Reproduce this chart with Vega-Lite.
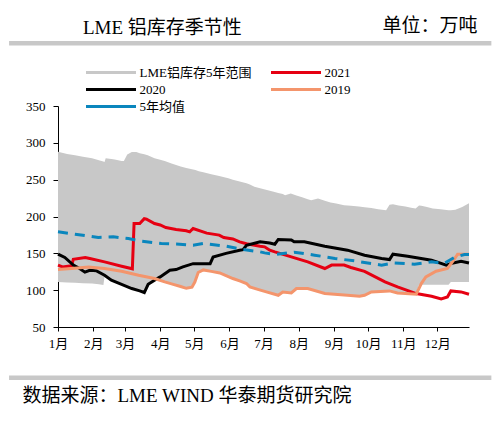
{
  "$schema": "https://vega.github.io/schema/vega-lite/v6.json",
  "width": 411,
  "height": 221,
  "autosize": {"type": "none"},
  "padding": {"left": 58, "top": 106, "right": 32, "bottom": 95},
  "background": "white",
  "config": {"view": {"stroke": null}, "font": "Liberation Serif, Noto Sans CJK SC", "axis": {"labelOverlap": false, "labelFlush": false, "grid": false, "labelSeparation": -30}},
  "title": {"text": "LME 铝库存季节性", "anchor": "start", "frame": "group", "dx": 25, "dy": 22, "offset": 0, "fontSize": 19, "fontWeight": "normal", "color": "black", "font": "Liberation Serif, Noto Sans CJK SC"},
  "datasets": {
    "rng": [
      {"d":0,"v":111,"v2":288},{"d":8,"v":110.5,"v2":285},{"d":15,"v":110,"v2":283},{"d":22,"v":109.5,"v2":281},{"d":30,"v":109,"v2":279},{"d":36,"v":108,"v2":276.5},{"d":40,"v":107,"v2":274.5},{"d":41,"v":119,"v2":274},{"d":42,"v":118.5,"v2":279},{"d":47,"v":113.5,"v2":278},{"d":50,"v":111.5,"v2":277.5},{"d":56,"v":108,"v2":275.5},{"d":58,"v":107,"v2":275.5},{"d":61,"v":105,"v2":284},{"d":65,"v":102,"v2":287.5},{"d":69,"v":100,"v2":287.5},{"d":72,"v":99,"v2":286},{"d":76,"v":96.5,"v2":284.5},{"d":79,"v":108,"v2":283},{"d":85,"v":113.5,"v2":279},{"d":90,"v":113.5,"v2":277},{"d":94,"v":111.2,"v2":275.5},{"d":100,"v":108.5,"v2":272},{"d":108,"v":105,"v2":268},{"d":113,"v":102.5,"v2":266},{"d":118,"v":104,"v2":264},{"d":121,"v":111.5,"v2":263},{"d":124,"v":124,"v2":261.5},{"d":128,"v":127.5,"v2":260},{"d":135,"v":125.5,"v2":257.5},{"d":142,"v":123.4,"v2":255},{"d":150,"v":118.5,"v2":252},{"d":154,"v":115.8,"v2":250},{"d":160,"v":112.5,"v2":247.5},{"d":166,"v":109,"v2":245},{"d":169,"v":104.4,"v2":243.6},{"d":173,"v":102.5,"v2":240.3},{"d":178,"v":100,"v2":238.5},{"d":184,"v":97.5,"v2":236},{"d":190,"v":95,"v2":233.5},{"d":194,"v":93.1,"v2":232},{"d":198,"v":97.6,"v2":230.4},{"d":200,"v":97.2,"v2":229},{"d":205,"v":96.3,"v2":231.3},{"d":210,"v":102.2,"v2":228.5},{"d":215,"v":102.2,"v2":226},{"d":220,"v":102.2,"v2":223.5},{"d":223,"v":100.8,"v2":222.2},{"d":229,"v":98,"v2":224.5},{"d":235,"v":95.4,"v2":221.5},{"d":240,"v":94.8,"v2":219},{"d":245,"v":94.2,"v2":217.5},{"d":252,"v":93.5,"v2":215.4},{"d":258,"v":93,"v2":214.5},{"d":265,"v":91.7,"v2":213.5},{"d":270,"v":93.1,"v2":212.5},{"d":276,"v":97.6,"v2":211.5},{"d":282,"v":98.2,"v2":210},{"d":289,"v":98.8,"v2":208.6},{"d":292,"v":99,"v2":216},{"d":295,"v":97.8,"v2":216.5},{"d":300,"v":96.2,"v2":215},{"d":306,"v":95.6,"v2":213.5},{"d":311,"v":95,"v2":212},{"d":315,"v":94.4,"v2":211},{"d":318,"v":107.5,"v2":215},{"d":320,"v":107.5,"v2":214.5},{"d":325,"v":107.5,"v2":213},{"d":330,"v":107.5,"v2":211},{"d":337,"v":107.5,"v2":210},{"d":344,"v":107.5,"v2":208.6},{"d":346,"v":111,"v2":208.6},{"d":350,"v":111,"v2":209},{"d":356,"v":111,"v2":213},{"d":362,"v":111,"v2":218}
    ],
    "lines": [
      {"s":"2021","d":0,"v":134},{"s":"2021","d":4,"v":131.6},{"s":"2021","d":12,"v":133},{"s":"2021","d":13.5,"v":142},{"s":"2021","d":24,"v":144.4},{"s":"2021","d":28,"v":143},{"s":"2021","d":41,"v":138.4},{"s":"2021","d":56,"v":132.5},{"s":"2021","d":65.5,"v":129},{"s":"2021","d":67,"v":190.5},{"s":"2021","d":72,"v":190.5},{"s":"2021","d":76,"v":197},{"s":"2021","d":78,"v":196.5},{"s":"2021","d":85,"v":190.5},{"s":"2021","d":90,"v":188.5},{"s":"2021","d":95,"v":185},{"s":"2021","d":104,"v":182.4},{"s":"2021","d":113,"v":180.6},{"s":"2021","d":116,"v":179.2},{"s":"2021","d":119,"v":183.7},{"s":"2021","d":131,"v":177.4},{"s":"2021","d":142,"v":174.7},{"s":"2021","d":146,"v":171.5},{"s":"2021","d":154,"v":169.5},{"s":"2021","d":160,"v":165.6},{"s":"2021","d":166,"v":163},{"s":"2021","d":178,"v":159.7},{"s":"2021","d":182,"v":158.8},{"s":"2021","d":186.5,"v":154.3},{"s":"2021","d":191,"v":152},{"s":"2021","d":205.5,"v":145.2},{"s":"2021","d":220,"v":138.4},{"s":"2021","d":235,"v":129.4},{"s":"2021","d":241,"v":134},{"s":"2021","d":252,"v":134},{"s":"2021","d":258,"v":130.8},{"s":"2021","d":270,"v":125.5},{"s":"2021","d":279,"v":118.5},{"s":"2021","d":288,"v":111.2},{"s":"2021","d":299,"v":104.4},{"s":"2021","d":315.5,"v":95.4},{"s":"2021","d":329,"v":91.7},{"s":"2021","d":337.5,"v":88},{"s":"2021","d":343,"v":90.8},{"s":"2021","d":346,"v":99},{"s":"2021","d":355,"v":97.6},{"s":"2021","d":362,"v":94.4},
      {"s":"2020","d":0,"v":149},{"s":"2020","d":6,"v":144.4},{"s":"2020","d":13.5,"v":134},{"s":"2020","d":19,"v":129.4},{"s":"2020","d":23.7,"v":124.5},{"s":"2020","d":28,"v":127},{"s":"2020","d":34,"v":126.2},{"s":"2020","d":41,"v":120.3},{"s":"2020","d":47,"v":113.5},{"s":"2020","d":56,"v":108},{"s":"2020","d":65,"v":102.2},{"s":"2020","d":72,"v":99},{"s":"2020","d":76,"v":96.8},{"s":"2020","d":79.4,"v":108},{"s":"2020","d":85,"v":113.5},{"s":"2020","d":90,"v":118},{"s":"2020","d":98.5,"v":127},{"s":"2020","d":104,"v":128},{"s":"2020","d":110,"v":131.6},{"s":"2020","d":119,"v":136},{"s":"2020","d":134,"v":136},{"s":"2020","d":136.6,"v":145},{"s":"2020","d":148,"v":150},{"s":"2020","d":160,"v":154.3},{"s":"2020","d":163,"v":155},{"s":"2020","d":166,"v":161},{"s":"2020","d":178,"v":165.6},{"s":"2020","d":186.5,"v":164},{"s":"2020","d":191,"v":162.4},{"s":"2020","d":194,"v":168.8},{"s":"2020","d":205.5,"v":168},{"s":"2020","d":208,"v":165.6},{"s":"2020","d":217,"v":165.6},{"s":"2020","d":235,"v":159.7},{"s":"2020","d":255,"v":154.3},{"s":"2020","d":270,"v":147.5},{"s":"2020","d":285,"v":143},{"s":"2020","d":292,"v":141.6},{"s":"2020","d":295,"v":148.8},{"s":"2020","d":308,"v":146},{"s":"2020","d":329,"v":140.7},{"s":"2020","d":342,"v":134},{"s":"2020","d":348,"v":137},{"s":"2020","d":355,"v":139.3},{"s":"2020","d":362,"v":137},
      {"s":"2019","d":0,"v":128},{"s":"2019","d":12,"v":129.4},{"s":"2019","d":27,"v":131.6},{"s":"2019","d":41,"v":129.4},{"s":"2019","d":56,"v":125.7},{"s":"2019","d":71,"v":120.3},{"s":"2019","d":85,"v":115.8},{"s":"2019","d":94,"v":111.2},{"s":"2019","d":100,"v":108.5},{"s":"2019","d":108,"v":105},{"s":"2019","d":113,"v":102.5},{"s":"2019","d":118,"v":104},{"s":"2019","d":120.5,"v":111},{"s":"2019","d":123.5,"v":124},{"s":"2019","d":128,"v":127.5},{"s":"2019","d":135,"v":125.5},{"s":"2019","d":142.5,"v":123.4},{"s":"2019","d":150,"v":118.5},{"s":"2019","d":154,"v":115.8},{"s":"2019","d":160,"v":112.5},{"s":"2019","d":166,"v":109},{"s":"2019","d":169,"v":104.4},{"s":"2019","d":176,"v":101},{"s":"2019","d":183.5,"v":97.6},{"s":"2019","d":194,"v":93.1},{"s":"2019","d":198,"v":97.6},{"s":"2019","d":205.5,"v":96.3},{"s":"2019","d":210,"v":102.2},{"s":"2019","d":220,"v":102.2},{"s":"2019","d":235,"v":95.4},{"s":"2019","d":255,"v":93.1},{"s":"2019","d":265.6,"v":91.7},{"s":"2019","d":270,"v":93.1},{"s":"2019","d":276,"v":97.6},{"s":"2019","d":292,"v":99},{"s":"2019","d":299,"v":96.3},{"s":"2019","d":315.5,"v":94.4},{"s":"2019","d":320,"v":109},{"s":"2019","d":324,"v":118},{"s":"2019","d":333,"v":125.7},{"s":"2019","d":343,"v":129.4},{"s":"2019","d":348,"v":139.8},{"s":"2019","d":352,"v":148.8},{"s":"2019","d":362,"v":148.8},
      {"s":"5年均值","d":0,"v":179.2},{"s":"5年均值","d":15,"v":176},{"s":"5年均值","d":35.5,"v":171.5},{"s":"5年均值","d":48.7,"v":172.4},{"s":"5年均值","d":62,"v":170},{"s":"5年均值","d":73.6,"v":166.5},{"s":"5年均值","d":91,"v":163.4},{"s":"5年均值","d":107,"v":162.4},{"s":"5年均值","d":119,"v":161},{"s":"5年均值","d":128,"v":163.4},{"s":"5年均值","d":148,"v":159.7},{"s":"5年均值","d":163,"v":155.2},{"s":"5年均值","d":178,"v":152},{"s":"5年均值","d":182,"v":150.6},{"s":"5年均值","d":191,"v":148.4},{"s":"5年均值","d":208,"v":151.6},{"s":"5年均值","d":226,"v":147.5},{"s":"5年均值","d":244,"v":143},{"s":"5年均值","d":261,"v":139.8},{"s":"5年均值","d":276,"v":136.2},{"s":"5年均值","d":285,"v":134},{"s":"5年均值","d":296,"v":137},{"s":"5年均值","d":314,"v":135.3},{"s":"5年均值","d":329,"v":138.4},{"s":"5年均值","d":340,"v":136.2},{"s":"5年均值","d":349,"v":144.4},{"s":"5年均值","d":358,"v":148.4},{"s":"5年均值","d":362,"v":148.4}
    ]
  },
  "resolve": {"scale": {"x": "independent", "y": "independent"}},
  "layer": [
    {
      "encoding": {
        "x": {"field": "d", "type": "quantitative",
          "scale": {"domain": [0, 362], "nice": false, "zero": false},
          "axis": {
            "values": [0,31,59,90,120,151,181,212,243,273,304,334],
            "labelExpr": "(indexof([0,31,59,90,120,151,181,212,243,273,304,334], datum.value) + 1) + '月'",
            "grid": false, "domainColor": "black", "tickColor": "black", "tickSize": 4, "domainWidth": 1,
            "labelFontSize": 13, "labelColor": "black", "labelPadding": 6, "labelOverlap": false, "labelFlush": false, "labelSeparation": -30,
            "labelFont": "Liberation Serif, Noto Sans CJK SC",
            "title": "数据来源：LME WIND  华泰期货研究院",
            "titleX": -36, "titleY": 68, "titleAlign": "left", "titleBaseline": "middle", "titleAnchor": "start",
            "titleFontSize": 19, "titleFontWeight": "normal", "titleColor": "black", "titleFont": "Liberation Serif, Noto Sans CJK SC"
          }
        },
        "y": {"field": "v", "type": "quantitative",
          "scale": {"domain": [50, 350], "nice": false, "zero": false},
          "axis": {
            "values": [50,100,150,200,250,300,350],
            "grid": false, "domainColor": "black", "tickColor": "black", "tickSize": 5, "domainWidth": 1,
            "labelFontSize": 13, "labelColor": "black", "labelPadding": 8, "labelFlush": false, "labelOverlap": false, "labelSeparation": -30,
            "labelFont": "Liberation Serif, Noto Sans CJK SC",
            "title": "单位：万吨", "titleAngle": 0, "titleX": 419, "titleY": -81, "titleAlign": "right", "titleBaseline": "middle",
            "titleFontSize": 19, "titleFontWeight": "normal", "titleColor": "black", "titleFont": "Liberation Serif, Noto Sans CJK SC"
          }
        }
      },
      "layer": [
        {
          "data": {"name": "rng"},
          "mark": {"type": "area", "opacity": 1},
          "encoding": {
            "y2": {"field": "v2"},
            "color": {"datum": "LME铝库存5年范围", "type": "nominal", "title": null,
              "scale": {"domain": ["LME铝库存5年范围", "2021", "2020", "2019", "5年均值"], "range": ["#c8c8c8", "#e60012", "#000000", "#f4956c", "#0a86bd"]},
              "legend": {
                "title": null, "orient": "none", "legendX": 26.5, "legendY": -42, "columns": 2, "direction": "horizontal", "padding": 0,
                "symbolType": "stroke", "symbolSize": 2500, "symbolStrokeWidth": 3, "clipHeight": 17, "rowPadding": 0, "columnPadding": 18,
                "labelOffset": 2, "labelFontSize": 13, "labelColor": "black", "labelFont": "Liberation Serif, Noto Sans CJK SC", "labelLimit": 300,
                "encode": {"symbols": {"update": {
                  "stroke": {"scale": "color", "field": "value"},
                  "fill": {"value": "transparent"},
                  "opacity": {"value": 1},
                  "strokeDash": {"signal": "datum.value === '5年均值' ? [10, 7] : [1, 0]"},
                  "strokeWidth": {"signal": "datum.value === 'LME铝库存5年范围' ? 7 : 3"}
                }}}
              }
            }
          }
        },
        {
          "data": {"name": "lines"},
          "transform": [{"filter": "datum.s === '2021'"}],
          "mark": {"type": "line", "strokeWidth": 3},
          "encoding": {"color": {"field": "s", "type": "nominal", "title": null}}
        },
        {
          "data": {"name": "lines"},
          "transform": [{"filter": "datum.s === '2020'"}],
          "mark": {"type": "line", "strokeWidth": 3},
          "encoding": {"color": {"field": "s", "type": "nominal", "title": null}}
        },
        {
          "data": {"name": "lines"},
          "transform": [{"filter": "datum.s === '2019'"}],
          "mark": {"type": "line", "strokeWidth": 3},
          "encoding": {"color": {"field": "s", "type": "nominal", "title": null}}
        },
        {
          "data": {"name": "lines"},
          "transform": [{"filter": "datum.s === '5年均值'"}],
          "mark": {"type": "line", "strokeWidth": 3, "strokeDash": [10, 7]},
          "encoding": {"color": {"field": "s", "type": "nominal", "title": null}}
        }
      ]
    },
    {
      "layer": [
        {
          "data": {"values": [{}]},
          "mark": {"type": "rule", "color": "#c8c8c8", "strokeWidth": 4.5, "clip": false},
          "encoding": {
            "x": {"datum": -43.1, "type": "quantitative", "scale": {"domain": [0, 362], "nice": false, "zero": false}, "axis": null},
            "x2": {"datum": 381.7},
            "y": {"datum": 435.2, "type": "quantitative", "scale": {"domain": [50, 350], "nice": false, "zero": false}, "axis": null}
          }
        },
        {
          "data": {"values": [{}]},
          "mark": {"type": "rule", "color": "#c8c8c8", "strokeWidth": 4.5, "clip": false},
          "encoding": {
            "x": {"datum": -43.1, "type": "quantitative", "axis": null},
            "x2": {"datum": 381.7},
            "y": {"datum": -19.0, "type": "quantitative", "axis": null}
          }
        }
      ]
    }
  ]
}
